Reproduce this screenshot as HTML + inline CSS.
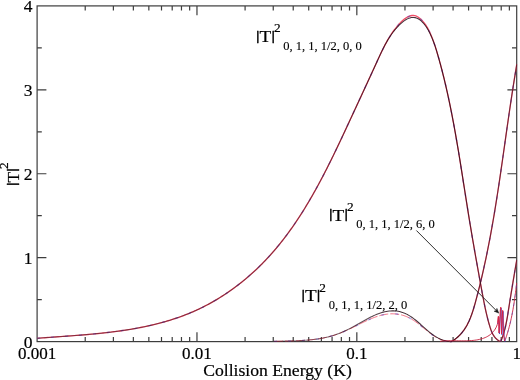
<!DOCTYPE html>
<html><head><meta charset="utf-8"><title>Collision Energy plot</title>
<style>html,body{margin:0;padding:0;background:#fff;overflow:hidden}svg{display:block}</style></head>
<body>
<svg width="520" height="380" viewBox="0 0 520 380">
<rect width="520" height="380" fill="#fff"/>
<g stroke="#3d3d3d" stroke-width="1.2" fill="none" stroke-linecap="butt">
<rect x="37.1" y="5.9" width="479.6" height="335.7"/>
<path d="M85.22 341.6 v-4.7 M85.22 5.9 v4.7 M113.38 341.6 v-4.7 M113.38 5.9 v4.7 M133.35 341.6 v-4.7 M133.35 5.9 v4.7 M148.84 341.6 v-4.7 M148.84 5.9 v4.7 M161.5 341.6 v-4.7 M161.5 5.9 v4.7 M172.2 341.6 v-4.7 M172.2 5.9 v4.7 M181.47 341.6 v-4.7 M181.47 5.9 v4.7 M189.65 341.6 v-4.7 M189.65 5.9 v4.7 M196.97 341.6 v-9.3 M196.97 5.9 v9.3 M245.09 341.6 v-4.7 M245.09 5.9 v4.7 M273.24 341.6 v-4.7 M273.24 5.9 v4.7 M293.22 341.6 v-4.7 M293.22 5.9 v4.7 M308.71 341.6 v-4.7 M308.71 5.9 v4.7 M321.37 341.6 v-4.7 M321.37 5.9 v4.7 M332.07 341.6 v-4.7 M332.07 5.9 v4.7 M341.34 341.6 v-4.7 M341.34 5.9 v4.7 M349.52 341.6 v-4.7 M349.52 5.9 v4.7 M356.83 341.6 v-9.3 M356.83 5.9 v9.3 M404.96 341.6 v-4.7 M404.96 5.9 v4.7 M433.11 341.6 v-4.7 M433.11 5.9 v4.7 M453.08 341.6 v-4.7 M453.08 5.9 v4.7 M468.58 341.6 v-4.7 M468.58 5.9 v4.7 M481.23 341.6 v-4.7 M481.23 5.9 v4.7 M491.94 341.6 v-4.7 M491.94 5.9 v4.7 M501.21 341.6 v-4.7 M501.21 5.9 v4.7 M509.38 341.6 v-4.7 M509.38 5.9 v4.7 M37.1 299.64 h4.7 M516.7 299.64 h-4.7 M37.1 257.68 h9.3 M516.7 257.68 h-9.3 M37.1 215.71 h4.7 M516.7 215.71 h-4.7 M37.1 173.75 h9.3 M516.7 173.75 h-9.3 M37.1 131.79 h4.7 M516.7 131.79 h-4.7 M37.1 89.82 h9.3 M516.7 89.82 h-9.3 M37.1 47.86 h4.7 M516.7 47.86 h-4.7"/>
</g>
<clipPath id="c"><rect x="37.1" y="5.9" width="480.2" height="336.6"/></clipPath>
<linearGradient id="kg" gradientUnits="userSpaceOnUse" x1="37" y1="0" x2="517" y2="0"><stop offset="0" stop-color="#240a14" stop-opacity="0.5"/><stop offset="0.58" stop-color="#240a14" stop-opacity="0.5"/><stop offset="0.74" stop-color="#240a14" stop-opacity="0.84"/><stop offset="0.88" stop-color="#240a14" stop-opacity="0.84"/><stop offset="0.93" stop-color="#240a14" stop-opacity="0.62"/><stop offset="1" stop-color="#240a14" stop-opacity="0.62"/></linearGradient>
<g clip-path="url(#c)">
<path d="M37.16 338.29 L38.63 338.18 L40.11 338.07 L41.59 337.95 L43.08 337.84 L44.56 337.73 L46.05 337.63 L47.53 337.52 L49.02 337.41 L50.51 337.31 L52 337.2 L53.5 337.09 L54.99 336.99 L56.48 336.88 L57.98 336.77 L59.48 336.67 L60.98 336.56 L62.47 336.45 L63.97 336.35 L65.48 336.24 L66.98 336.13 L68.48 336.02 L69.98 335.91 L71.49 335.8 L72.99 335.68 L74.5 335.57 L76 335.45 L77.51 335.34 L79.01 335.22 L80.52 335.1 L82.03 334.97 L83.53 334.85 L85.04 334.72 L86.55 334.59 L88.05 334.46 L89.56 334.33 L91.07 334.19 L92.58 334.05 L94.08 333.91 L95.59 333.76 L97.1 333.62 L98.6 333.46 L100.11 333.31 L101.62 333.15 L103.12 332.99 L104.63 332.83 L106.13 332.66 L107.63 332.49 L109.14 332.31 L110.64 332.13 L112.14 331.95 L113.64 331.76 L115.14 331.56 L116.64 331.37 L118.14 331.16 L119.63 330.96 L121.13 330.75 L122.62 330.53 L124.12 330.31 L125.61 330.08 L127.1 329.85 L128.59 329.61 L130.08 329.37 L131.57 329.12 L133.05 328.87 L134.54 328.61 L136.02 328.34 L137.5 328.07 L138.98 327.79 L140.45 327.51 L141.93 327.22 L143.4 326.92 L144.87 326.62 L146.34 326.31 L147.81 325.99 L149.28 325.66 L150.74 325.33 L152.2 324.99 L153.66 324.65 L155.12 324.3 L156.57 323.93 L158.02 323.57 L159.47 323.19 L160.92 322.81 L162.37 322.41 L163.81 322.01 L165.25 321.61 L166.68 321.19 L168.12 320.77 L169.55 320.33 L170.98 319.89 L172.4 319.44 L173.82 318.98 L175.24 318.51 L176.66 318.03 L178.07 317.55 L179.48 317.05 L180.89 316.55 L182.3 316.03 L183.7 315.51 L185.09 314.97 L186.49 314.43 L187.88 313.87 L189.26 313.31 L190.65 312.73 L192.03 312.15 L193.4 311.55 L194.77 310.95 L196.14 310.33 L197.51 309.7 L198.87 309.07 L200.22 308.42 L201.58 307.76 L202.92 307.09 L204.27 306.41 L205.61 305.72 L206.94 305.02 L208.28 304.31 L209.6 303.59 L210.92 302.86 L212.24 302.12 L213.55 301.37 L214.86 300.61 L216.17 299.84 L217.46 299.06 L218.76 298.27 L220.04 297.48 L221.33 296.67 L222.61 295.86 L223.88 295.03 L225.14 294.2 L226.41 293.36 L227.66 292.51 L228.91 291.65 L230.16 290.78 L231.39 289.91 L232.63 289.02 L233.85 288.13 L235.08 287.23 L236.29 286.33 L237.5 285.41 L238.7 284.49 L239.9 283.56 L241.09 282.62 L242.27 281.67 L243.45 280.72 L244.62 279.76 L245.78 278.79 L246.94 277.81 L248.09 276.83 L249.23 275.84 L250.37 274.84 L251.5 273.84 L252.62 272.83 L253.73 271.82 L254.84 270.79 L255.94 269.77 L257.04 268.73 L258.12 267.69 L259.2 266.64 L260.27 265.59 L261.33 264.53 L262.39 263.46 L263.44 262.39 L264.48 261.31 L265.52 260.23 L266.55 259.14 L267.57 258.05 L268.58 256.95 L269.59 255.84 L270.59 254.73 L271.59 253.61 L272.58 252.49 L273.56 251.36 L274.54 250.23 L275.51 249.09 L276.47 247.95 L277.43 246.8 L278.38 245.65 L279.32 244.49 L280.26 243.33 L281.19 242.16 L282.12 240.99 L283.04 239.81 L283.96 238.63 L284.87 237.44 L285.77 236.25 L286.67 235.05 L287.56 233.85 L288.45 232.65 L289.33 231.44 L290.2 230.23 L291.08 229.01 L291.94 227.79 L292.8 226.56 L293.66 225.33 L294.51 224.1 L295.35 222.86 L296.19 221.62 L297.02 220.37 L297.85 219.13 L298.68 217.87 L299.5 216.62 L300.32 215.36 L301.13 214.09 L301.93 212.83 L302.73 211.56 L303.53 210.28 L304.33 209.01 L305.11 207.73 L305.9 206.44 L306.68 205.16 L307.45 203.87 L308.23 202.57 L308.99 201.28 L309.76 199.98 L310.52 198.68 L311.27 197.38 L312.03 196.07 L312.77 194.76 L313.52 193.45 L314.26 192.13 L315 190.82 L315.73 189.5 L316.46 188.18 L317.19 186.85 L317.91 185.53 L318.63 184.2 L319.35 182.87 L320.06 181.54 L320.77 180.2 L321.48 178.87 L322.19 177.53 L322.89 176.19 L323.59 174.85 L324.28 173.51 L324.98 172.16 L325.67 170.81 L326.36 169.47 L327.04 168.12 L327.72 166.77 L328.41 165.41 L329.08 164.06 L329.76 162.71 L330.43 161.35 L331.1 159.99 L331.77 158.64 L332.44 157.28 L333.1 155.92 L333.77 154.56 L334.43 153.2 L335.09 151.83 L335.74 150.47 L336.4 149.11 L337.05 147.74 L337.7 146.38 L338.36 145.01 L339 143.65 L339.65 142.28 L340.3 140.92 L340.94 139.55 L341.59 138.18 L342.23 136.82 L342.87 135.45 L343.51 134.08 L344.15 132.72 L344.78 131.35 L345.42 129.98 L346.06 128.62 L346.69 127.25 L347.33 125.89 L347.96 124.52 L348.59 123.16 L349.23 121.79 L349.86 120.43 L350.49 119.07 L351.12 117.71 L351.75 116.35 L352.38 114.99 L353.01 113.63 L353.64 112.27 L354.27 110.91 L354.9 109.55 L355.53 108.19 L356.16 106.84 L356.79 105.48 L357.41 104.13 L358.04 102.77 L358.67 101.42 L359.3 100.06 L359.93 98.71 L360.55 97.35 L361.18 96 L361.81 94.64 L362.44 93.29 L363.06 91.93 L363.69 90.58 L364.32 89.22 L364.94 87.87 L365.57 86.51 L366.2 85.15 L366.83 83.79 L367.45 82.44 L368.08 81.08 L368.71 79.72 L369.33 78.36 L369.96 77 L370.59 75.64 L371.22 74.27 L371.84 72.91 L372.47 71.54 L373.1 70.18 L373.73 68.81 L374.35 67.44 L374.98 66.07 L375.61 64.7 L376.24 63.33 L376.87 61.95 L377.5 60.58 L378.13 59.2 L378.76 57.83 L379.39 56.45 L380.03 55.07 L380.68 53.7 L381.33 52.33 L381.98 50.96 L382.65 49.59 L383.32 48.23 L384.01 46.88 L384.7 45.53 L385.41 44.18 L386.13 42.85 L386.86 41.52 L387.61 40.19 L388.38 38.88 L389.16 37.58 L389.96 36.29 L390.77 35.01 L391.61 33.74 L392.47 32.48 L393.35 31.23 L394.25 30 L395.18 28.79 L396.13 27.58 L397.11 26.4 L398.12 25.23 L399.15 24.07 L400.21 22.94 L401.3 21.83 L402.41 20.77 L403.55 19.77 L404.71 18.84 L405.88 17.99 L407.08 17.25 L408.29 16.61 L409.52 16.11 L410.76 15.74 L412.02 15.53 L413.28 15.48 L414.55 15.62 L415.82 15.95 L417.1 16.5 L418.38 17.25 L419.63 18.18 L420.86 19.24 L422.02 20.39 L423.12 21.6 L424.15 22.85 L425.11 24.13 L426.01 25.45 L426.86 26.79 L427.65 28.16 L428.4 29.54 L429.11 30.95 L429.78 32.36 L430.42 33.78 L431.04 35.2 L431.63 36.62 L432.2 38.04 L432.75 39.46 L433.28 40.88 L433.8 42.31 L434.3 43.73 L434.78 45.15 L435.25 46.57 L435.71 48 L436.15 49.43 L436.59 50.85 L437.02 52.28 L437.44 53.71 L437.85 55.14 L438.26 56.57 L438.67 58 L439.07 59.44 L439.47 60.87 L439.87 62.31 L440.26 63.75 L440.65 65.19 L441.03 66.63 L441.41 68.08 L441.79 69.52 L442.17 70.97 L442.54 72.41 L442.9 73.86 L443.27 75.31 L443.63 76.76 L443.98 78.21 L444.34 79.67 L444.69 81.12 L445.03 82.58 L445.38 84.03 L445.72 85.49 L446.06 86.95 L446.39 88.41 L446.72 89.87 L447.05 91.33 L447.38 92.79 L447.7 94.26 L448.02 95.72 L448.34 97.19 L448.66 98.66 L448.97 100.12 L449.28 101.59 L449.59 103.06 L449.89 104.53 L450.19 106 L450.49 107.48 L450.79 108.95 L451.08 110.42 L451.38 111.9 L451.67 113.37 L451.96 114.85 L452.24 116.33 L452.53 117.81 L452.81 119.28 L453.09 120.76 L453.37 122.24 L453.64 123.72 L453.92 125.2 L454.19 126.69 L454.46 128.17 L454.73 129.65 L454.99 131.14 L455.26 132.62 L455.52 134.1 L455.78 135.59 L456.05 137.08 L456.3 138.56 L456.56 140.05 L456.82 141.54 L457.07 143.02 L457.32 144.51 L457.58 146 L457.83 147.49 L458.08 148.98 L458.33 150.47 L458.57 151.96 L458.82 153.45 L459.06 154.94 L459.31 156.43 L459.55 157.92 L459.79 159.41 L460.03 160.9 L460.28 162.39 L460.52 163.89 L460.75 165.38 L460.99 166.87 L461.23 168.36 L461.47 169.85 L461.7 171.35 L461.94 172.84 L462.18 174.33 L462.41 175.82 L462.65 177.32 L462.88 178.81 L463.11 180.3 L463.35 181.8 L463.58 183.29 L463.82 184.78 L464.05 186.27 L464.28 187.77 L464.52 189.26 L464.75 190.75 L464.98 192.24 L465.22 193.73 L465.45 195.22 L465.69 196.72 L465.92 198.21 L466.15 199.7 L466.39 201.19 L466.62 202.68 L466.86 204.17 L467.1 205.66 L467.33 207.15 L467.57 208.64 L467.81 210.13 L468.05 211.62 L468.29 213.1 L468.52 214.59 L468.77 216.08 L469.01 217.56 L469.25 219.05 L469.49 220.54 L469.74 222.02 L469.98 223.51 L470.23 224.99 L470.47 226.48 L470.72 227.96 L470.97 229.44 L471.22 230.92 L471.47 232.41 L471.72 233.89 L471.97 235.37 L472.22 236.85 L472.48 238.33 L472.73 239.81 L472.99 241.29 L473.24 242.77 L473.5 244.25 L473.75 245.73 L474.01 247.21 L474.27 248.69 L474.53 250.17 L474.79 251.65 L475.05 253.12 L475.31 254.6 L475.57 256.08 L475.83 257.56 L476.1 259.03 L476.36 260.51 L476.62 261.99 L476.89 263.47 L477.15 264.94 L477.42 266.42 L477.68 267.9 L477.95 269.38 L478.21 270.85 L478.48 272.33 L478.75 273.81 L479.01 275.28 L479.28 276.76 L479.55 278.24 L479.82 279.71 L480.09 281.19 L480.36 282.67 L480.63 284.15 L480.9 285.62 L481.17 287.1 L481.44 288.58 L481.71 290.06 L481.98 291.54 L482.25 293.02 L482.53 294.49 L482.8 295.97 L483.08 297.45 L483.36 298.93 L483.64 300.41 L483.93 301.88 L484.23 303.36 L484.52 304.84 L484.83 306.31 L485.14 307.79 L485.45 309.26 L485.77 310.74 L486.11 312.21 L486.44 313.69 L486.79 315.16 L487.15 316.63 L487.52 318.1 L487.89 319.57 L488.28 321.03 L488.68 322.5 L489.09 323.96 L489.52 325.43 L489.96 326.89 L490.42 328.34 L490.91 329.77 L491.44 331.18 L492.03 332.55 L492.67 333.89 L493.39 335.17 L494.19 336.39 L495.08 337.54 L496.07 338.62 L497.16 339.62 L498.38 340.52 L499.73 341.32" fill="none" stroke="#ee3a55" stroke-width="1.35" stroke-linejoin="round" stroke-opacity="0.9"/>
<path d="M500.55 341.65 L501.16 340.31 L501.73 338.95 L502.27 337.57 L502.77 336.17 L503.25 334.76 L503.71 333.33 L504.13 331.88 L504.54 330.43 L504.92 328.96 L505.28 327.47 L505.62 325.98 L505.95 324.48 L506.26 322.97 L506.55 321.45 L506.83 319.93 L507.11 318.4 L507.37 316.86 L507.62 315.32 L507.87 313.78 L508.12 312.23 L508.36 310.68 L508.61 309.14 L508.85 307.59 L509.09 306.05 L509.34 304.5 L509.58 302.96 L509.83 301.41 L510.08 299.87 L510.32 298.33 L510.57 296.79 L510.82 295.25 L511.07 293.71 L511.32 292.17 L511.58 290.63 L511.83 289.09 L512.08 287.55 L512.34 286.02 L512.59 284.48 L512.85 282.95 L513.1 281.41 L513.36 279.88 L513.61 278.35 L513.87 276.82 L514.13 275.29 L514.39 273.76 L514.65 272.23 L514.91 270.7 L515.17 269.18 L515.43 267.65 L515.69 266.12 L515.95 264.6 L516.22 263.08 L516.48 261.56 L516.7 260.03" fill="none" stroke="#ee3a55" stroke-width="1.35" stroke-linejoin="round" stroke-opacity="0.9"/>
<path d="M449.83 341.75 L451.24 341.69 L452.6 340.88 L453.9 340.03 L455.14 339.14 L456.34 338.21 L457.48 337.25 L458.58 336.25 L459.63 335.22 L460.64 334.16 L461.6 333.06 L462.52 331.94 L463.4 330.78 L464.24 329.6 L465.05 328.39 L465.82 327.16 L466.56 325.91 L467.26 324.63 L467.93 323.33 L468.58 322.01 L469.2 320.67 L469.79 319.31 L470.36 317.94 L470.9 316.55 L471.42 315.15 L471.93 313.73 L472.42 312.31 L472.89 310.87 L473.34 309.43 L473.78 307.97 L474.21 306.51 L474.63 305.05 L475.05 303.58 L475.45 302.11 L475.85 300.63 L476.25 299.16 L476.64 297.69 L477.03 296.21 L477.41 294.74 L477.8 293.26 L478.17 291.79 L478.55 290.31 L478.92 288.84 L479.29 287.36 L479.66 285.88 L480.02 284.41 L480.38 282.93 L480.74 281.45 L481.09 279.98 L481.44 278.5 L481.79 277.02 L482.13 275.55 L482.47 274.07 L482.81 272.59 L483.15 271.11 L483.48 269.63 L483.81 268.15 L484.14 266.68 L484.46 265.2 L484.78 263.72 L485.1 262.24 L485.42 260.76 L485.73 259.28 L486.05 257.8 L486.35 256.32 L486.66 254.84 L486.96 253.36 L487.26 251.88 L487.56 250.39 L487.86 248.91 L488.15 247.43 L488.45 245.95 L488.74 244.47 L489.02 242.99 L489.31 241.5 L489.59 240.02 L489.87 238.54 L490.15 237.06 L490.43 235.57 L490.7 234.09 L490.97 232.61 L491.24 231.12 L491.51 229.64 L491.78 228.16 L492.04 226.67 L492.31 225.19 L492.57 223.7 L492.83 222.22 L493.08 220.74 L493.34 219.25 L493.59 217.77 L493.85 216.28 L494.1 214.8 L494.35 213.31 L494.59 211.82 L494.84 210.34 L495.08 208.85 L495.33 207.37 L495.57 205.88 L495.81 204.39 L496.05 202.91 L496.28 201.42 L496.52 199.93 L496.76 198.45 L496.99 196.96 L497.22 195.47 L497.45 193.99 L497.68 192.5 L497.91 191.01 L498.14 189.52 L498.37 188.04 L498.59 186.55 L498.82 185.06 L499.04 183.57 L499.27 182.08 L499.49 180.59 L499.71 179.11 L499.93 177.62 L500.15 176.13 L500.37 174.64 L500.59 173.15 L500.81 171.66 L501.02 170.17 L501.24 168.68 L501.45 167.19 L501.67 165.7 L501.89 164.21 L502.1 162.72 L502.31 161.23 L502.53 159.74 L502.74 158.25 L502.95 156.76 L503.17 155.27 L503.38 153.78 L503.59 152.29 L503.8 150.8 L504.01 149.31 L504.22 147.82 L504.44 146.33 L504.65 144.84 L504.86 143.34 L505.07 141.85 L505.28 140.36 L505.49 138.87 L505.7 137.38 L505.91 135.89 L506.13 134.4 L506.34 132.9 L506.55 131.41 L506.76 129.92 L506.97 128.43 L507.19 126.94 L507.4 125.44 L507.61 123.95 L507.83 122.46 L508.04 120.97 L508.26 119.47 L508.47 117.98 L508.69 116.49 L508.91 115 L509.12 113.5 L509.34 112.01 L509.56 110.52 L509.78 109.02 L510 107.53 L510.22 106.04 L510.44 104.54 L510.66 103.05 L510.89 101.56 L511.11 100.06 L511.33 98.57 L511.56 97.08 L511.79 95.58 L512.02 94.09 L512.24 92.6 L512.47 91.1 L512.71 89.61 L512.94 88.12 L513.17 86.62 L513.41 85.13 L513.64 83.64 L513.88 82.14 L514.12 80.65 L514.36 79.15 L514.6 77.66 L514.84 76.17 L515.09 74.67 L515.34 73.18 L515.58 71.68 L515.83 70.19 L516.08 68.7 L516.33 67.2 L516.59 65.71 L516.7 64.21" fill="none" stroke="#ee3a55" stroke-width="1.35" stroke-linejoin="round" stroke-opacity="0.9"/>
<path d="M274.01 341.38 L275.49 341.33 L276.98 341.28 L278.47 341.24 L279.97 341.2 L281.47 341.16 L282.98 341.13 L284.49 341.09 L286.01 341.05 L287.53 341.02 L289.05 340.98 L290.57 340.94 L292.1 340.89 L293.63 340.84 L295.16 340.79 L296.69 340.73 L298.22 340.67 L299.75 340.6 L301.28 340.52 L302.81 340.43 L304.34 340.33 L305.87 340.22 L307.4 340.1 L308.92 339.97 L310.44 339.83 L311.96 339.68 L313.48 339.51 L314.99 339.32 L316.49 339.12 L318 338.91 L319.49 338.67 L320.99 338.42 L322.47 338.16 L323.96 337.87 L325.43 337.56 L326.9 337.23 L328.36 336.88 L329.81 336.51 L331.26 336.11 L332.69 335.69 L334.12 335.25 L335.54 334.78 L336.95 334.29 L338.36 333.78 L339.76 333.25 L341.15 332.7 L342.54 332.14 L343.93 331.55 L345.31 330.96 L346.69 330.34 L348.07 329.72 L349.45 329.08 L350.82 328.43 L352.2 327.77 L353.57 327.1 L354.95 326.42 L356.33 325.74 L357.71 325.05 L359.09 324.36 L360.48 323.67 L361.86 322.98 L363.25 322.3 L364.65 321.63 L366.05 320.97 L367.45 320.32 L368.85 319.69 L370.26 319.07 L371.67 318.48 L373.09 317.91 L374.51 317.36 L375.94 316.85 L377.37 316.36 L378.81 315.91 L380.26 315.5 L381.71 315.13 L383.17 314.79 L384.63 314.5 L386.1 314.26 L387.58 314.07 L389.06 313.93 L390.55 313.84 L392.05 313.81 L393.55 313.83 L395.04 313.91 L396.53 314.05 L398.02 314.24 L399.5 314.5 L400.96 314.81 L402.42 315.19 L403.85 315.62 L405.27 316.12 L406.67 316.68 L408.05 317.29 L409.41 317.96 L410.75 318.68 L412.07 319.44 L413.36 320.25 L414.64 321.09 L415.9 321.97 L417.14 322.87 L418.37 323.8 L419.58 324.75 L420.78 325.71 L421.98 326.69 L423.16 327.67 L424.35 328.65 L425.54 329.63 L426.72 330.6 L427.91 331.56 L429.11 332.5 L430.32 333.42 L431.53 334.31 L432.76 335.17 L434.01 336 L435.28 336.79 L436.56 337.53 L437.87 338.22 L439.21 338.86 L440.57 339.45 L441.96 339.96 L443.39 340.41 L444.85 340.79 L446.35 341.1 L447.89 341.32 L449.47 341.45" fill="none" stroke="#ee3a55" stroke-width="1.0" stroke-linejoin="round" stroke-opacity="0.7" stroke-dasharray="9 2"/>
<path d="M37.16 338.29 L38.63 338.18 L40.11 338.07 L41.59 337.95 L43.08 337.84 L44.56 337.73 L46.05 337.63 L47.53 337.52 L49.02 337.41 L50.51 337.31 L52 337.2 L53.5 337.09 L54.99 336.99 L56.48 336.88 L57.98 336.77 L59.48 336.67 L60.98 336.56 L62.47 336.45 L63.97 336.35 L65.48 336.24 L66.98 336.13 L68.48 336.02 L69.98 335.91 L71.49 335.8 L72.99 335.68 L74.5 335.57 L76 335.45 L77.51 335.34 L79.01 335.22 L80.52 335.1 L82.03 334.97 L83.53 334.85 L85.04 334.72 L86.55 334.59 L88.05 334.46 L89.56 334.33 L91.07 334.19 L92.58 334.05 L94.08 333.91 L95.59 333.76 L97.1 333.62 L98.6 333.46 L100.11 333.31 L101.62 333.15 L103.12 332.99 L104.63 332.83 L106.13 332.66 L107.63 332.49 L109.14 332.31 L110.64 332.13 L112.14 331.95 L113.64 331.76 L115.14 331.56 L116.64 331.37 L118.14 331.16 L119.63 330.96 L121.13 330.75 L122.62 330.53 L124.12 330.31 L125.61 330.08 L127.1 329.85 L128.59 329.61 L130.08 329.37 L131.57 329.12 L133.05 328.87 L134.54 328.61 L136.02 328.34 L137.5 328.07 L138.98 327.79 L140.45 327.51 L141.93 327.22 L143.4 326.92 L144.87 326.62 L146.34 326.31 L147.81 325.99 L149.28 325.66 L150.74 325.33 L152.2 324.99 L153.66 324.65 L155.12 324.3 L156.57 323.93 L158.02 323.57 L159.47 323.19 L160.92 322.81 L162.37 322.41 L163.81 322.01 L165.25 321.61 L166.68 321.19 L168.12 320.77 L169.55 320.33 L170.98 319.89 L172.4 319.44 L173.82 318.98 L175.24 318.51 L176.66 318.03 L178.07 317.55 L179.48 317.05 L180.89 316.55 L182.3 316.03 L183.7 315.51 L185.09 314.97 L186.49 314.43 L187.88 313.87 L189.26 313.31 L190.65 312.73 L192.03 312.15 L193.4 311.55 L194.77 310.95 L196.14 310.33 L197.51 309.7 L198.87 309.07 L200.22 308.42 L201.58 307.76 L202.92 307.09 L204.27 306.41 L205.61 305.72 L206.94 305.02 L208.28 304.31 L209.6 303.59 L210.92 302.86 L212.24 302.12 L213.55 301.37 L214.86 300.61 L216.17 299.84 L217.46 299.06 L218.76 298.27 L220.04 297.48 L221.33 296.67 L222.61 295.86 L223.88 295.03 L225.14 294.2 L226.41 293.36 L227.66 292.51 L228.91 291.65 L230.16 290.78 L231.39 289.91 L232.63 289.02 L233.85 288.13 L235.08 287.23 L236.29 286.33 L237.5 285.41 L238.7 284.49 L239.9 283.56 L241.09 282.62 L242.27 281.67 L243.45 280.72 L244.62 279.76 L245.78 278.79 L246.94 277.81 L248.09 276.83 L249.23 275.84 L250.37 274.84 L251.5 273.84 L252.62 272.83 L253.73 271.82 L254.84 270.79 L255.94 269.77 L257.04 268.73 L258.12 267.69 L259.2 266.64 L260.27 265.59 L261.33 264.53 L262.39 263.46 L263.44 262.39 L264.48 261.31 L265.52 260.23 L266.55 259.14 L267.57 258.05 L268.58 256.95 L269.59 255.84 L270.59 254.73 L271.59 253.61 L272.58 252.49 L273.56 251.36 L274.54 250.23 L275.51 249.09 L276.47 247.95 L277.43 246.8 L278.38 245.65 L279.32 244.49 L280.26 243.33 L281.19 242.16 L282.12 240.99 L283.04 239.81 L283.96 238.63 L284.87 237.44 L285.77 236.25 L286.67 235.05 L287.56 233.85 L288.45 232.65 L289.33 231.44 L290.2 230.23 L291.08 229.01 L291.94 227.79 L292.8 226.56 L293.66 225.33 L294.51 224.1 L295.35 222.86 L296.19 221.62 L297.02 220.37 L297.85 219.13 L298.68 217.87 L299.5 216.62 L300.32 215.36 L301.13 214.09 L301.93 212.83 L302.73 211.56 L303.53 210.28 L304.33 209.01 L305.11 207.73 L305.9 206.44 L306.68 205.16 L307.45 203.87 L308.23 202.57 L308.99 201.28 L309.76 199.98 L310.52 198.68 L311.27 197.38 L312.03 196.07 L312.77 194.76 L313.52 193.45 L314.26 192.13 L315 190.82 L315.73 189.5 L316.46 188.18 L317.19 186.85 L317.91 185.53 L318.63 184.2 L319.35 182.87 L320.06 181.54 L320.77 180.2 L321.48 178.87 L322.19 177.53 L322.89 176.19 L323.59 174.85 L324.28 173.51 L324.98 172.16 L325.67 170.81 L326.36 169.47 L327.04 168.12 L327.72 166.77 L328.41 165.41 L329.08 164.06 L329.76 162.71 L330.43 161.35 L331.1 159.99 L331.77 158.64 L332.44 157.28 L333.1 155.92 L333.77 154.56 L334.43 153.2 L335.09 151.83 L335.74 150.47 L336.4 149.11 L337.05 147.74 L337.7 146.38 L338.36 145.01 L339 143.65 L339.65 142.28 L340.3 140.92 L340.94 139.55 L341.59 138.18 L342.23 136.82 L342.87 135.45 L343.51 134.08 L344.15 132.72 L344.78 131.35 L345.42 129.98 L346.06 128.62 L346.69 127.25 L347.33 125.89 L347.96 124.52 L348.59 123.16 L349.23 121.79 L349.86 120.43 L350.49 119.07 L351.12 117.71 L351.75 116.35 L352.38 114.99 L353.01 113.63 L353.64 112.27 L354.27 110.91 L354.9 109.55 L355.53 108.19 L356.16 106.84 L356.79 105.48 L357.41 104.13 L358.04 102.77 L358.67 101.42 L359.3 100.06 L359.93 98.71 L360.55 97.35 L361.18 96 L361.81 94.64 L362.44 93.29 L363.06 91.93 L363.69 90.58 L364.32 89.22 L364.94 87.87 L365.57 86.51 L366.2 85.15 L366.83 83.79 L367.45 82.44 L368.08 81.08 L368.71 79.72 L369.33 78.36 L369.96 77 L370.59 75.64 L371.22 74.27 L371.84 72.91 L372.47 71.54 L373.1 70.18 L373.73 68.81 L374.35 67.44 L374.98 66.07 L375.61 64.7 L376.24 63.33 L376.87 61.95 L377.5 60.58 L378.13 59.2 L378.76 57.83 L379.39 56.45 L380.03 55.07 L380.68 53.7 L381.33 52.33 L381.98 50.96 L382.65 49.59 L383.32 48.23 L384.01 46.88 L384.7 45.53 L385.41 44.18 L386.13 42.85 L386.86 41.52 L387.61 40.19 L388.38 38.88 L389.16 37.58 L389.96 36.29 L390.77 35.01 L391.61 33.74 L392.47 32.48 L393.35 31.23 L394.25 30 L395.18 28.79 L396.13 27.58 L397.11 26.4 L398.12 25.23 L399.15 24.07 L400.21 22.94 L401.3 21.83 L402.41 20.77 L403.55 19.77 L404.71 18.84 L405.88 17.99 L407.08 17.25 L408.29 16.61 L409.52 16.11 L410.76 15.74 L412.02 15.53 L413.28 15.48 L414.55 15.62 L415.82 15.95 L417.1 16.5 L418.38 17.25 L419.63 18.18 L420.86 19.24 L422.02 20.39 L423.12 21.6 L424.15 22.85 L425.11 24.13 L426.01 25.45 L426.86 26.79 L427.65 28.16 L428.4 29.54 L429.11 30.95 L429.78 32.36 L430.42 33.78 L431.04 35.2 L431.63 36.62 L432.2 38.04 L432.75 39.46 L433.28 40.88 L433.8 42.31 L434.3 43.73 L434.78 45.15 L435.25 46.57 L435.71 48 L436.15 49.43 L436.59 50.85 L437.02 52.28 L437.44 53.71 L437.85 55.14 L438.26 56.57 L438.67 58 L439.07 59.44 L439.47 60.87 L439.87 62.31 L440.26 63.75 L440.65 65.19 L441.03 66.63 L441.41 68.08 L441.79 69.52 L442.17 70.97 L442.54 72.41 L442.9 73.86 L443.27 75.31 L443.63 76.76 L443.98 78.21 L444.34 79.67 L444.69 81.12 L445.03 82.58 L445.38 84.03 L445.72 85.49 L446.06 86.95 L446.39 88.41 L446.72 89.87 L447.05 91.33 L447.38 92.79 L447.7 94.26 L448.02 95.72 L448.34 97.19 L448.66 98.66 L448.97 100.12 L449.28 101.59 L449.59 103.06 L449.89 104.53 L450.19 106 L450.49 107.48 L450.79 108.95 L451.08 110.42 L451.38 111.9 L451.67 113.37 L451.96 114.85 L452.24 116.33 L452.53 117.81 L452.81 119.28 L453.09 120.76 L453.37 122.24 L453.64 123.72 L453.92 125.2 L454.19 126.69 L454.46 128.17 L454.73 129.65 L454.99 131.14 L455.26 132.62 L455.52 134.1 L455.78 135.59 L456.05 137.08 L456.3 138.56 L456.56 140.05 L456.82 141.54 L457.07 143.02 L457.32 144.51 L457.58 146 L457.83 147.49 L458.08 148.98 L458.33 150.47 L458.57 151.96 L458.82 153.45 L459.06 154.94 L459.31 156.43 L459.55 157.92 L459.79 159.41 L460.03 160.9 L460.28 162.39 L460.52 163.89 L460.75 165.38 L460.99 166.87 L461.23 168.36 L461.47 169.85 L461.7 171.35 L461.94 172.84 L462.18 174.33 L462.41 175.82 L462.65 177.32 L462.88 178.81 L463.11 180.3 L463.35 181.8 L463.58 183.29 L463.82 184.78 L464.05 186.27 L464.28 187.77 L464.52 189.26 L464.75 190.75 L464.98 192.24 L465.22 193.73 L465.45 195.22 L465.69 196.72 L465.92 198.21 L466.15 199.7 L466.39 201.19 L466.62 202.68 L466.86 204.17 L467.1 205.66 L467.33 207.15 L467.57 208.64 L467.81 210.13 L468.05 211.62 L468.29 213.1 L468.52 214.59 L468.77 216.08 L469.01 217.56 L469.25 219.05 L469.49 220.54 L469.74 222.02 L469.98 223.51 L470.23 224.99 L470.47 226.48 L470.72 227.96 L470.97 229.44 L471.22 230.92 L471.47 232.41 L471.72 233.89 L471.97 235.37 L472.22 236.85 L472.48 238.33 L472.73 239.81 L472.99 241.29 L473.24 242.77 L473.5 244.25 L473.75 245.73 L474.01 247.21 L474.27 248.69 L474.53 250.17 L474.79 251.65 L475.05 253.12 L475.31 254.6 L475.57 256.08 L475.83 257.56 L476.1 259.03 L476.36 260.51 L476.62 261.99 L476.89 263.47 L477.15 264.94 L477.42 266.42 L477.68 267.9 L477.95 269.38 L478.21 270.85 L478.48 272.33 L478.75 273.81 L479.01 275.28 L479.28 276.76 L479.55 278.24 L479.82 279.71 L480.09 281.19 L480.36 282.67 L480.63 284.15 L480.9 285.62 L481.17 287.1 L481.44 288.58 L481.71 290.06 L481.98 291.54 L482.25 293.02 L482.53 294.49 L482.8 295.97 L483.08 297.45 L483.36 298.93 L483.64 300.41 L483.93 301.88 L484.23 303.36 L484.52 304.84 L484.83 306.31 L485.14 307.79 L485.45 309.26 L485.77 310.74 L486.11 312.21 L486.44 313.69 L486.79 315.16 L487.15 316.63 L487.52 318.1 L487.89 319.57 L488.28 321.03 L488.68 322.5 L489.09 323.96 L489.52 325.43 L489.96 326.89 L490.42 328.34 L490.91 329.77 L491.44 331.18 L492.03 332.55 L492.67 333.89 L493.39 335.17 L494.19 336.39 L495.08 337.54 L496.07 338.62 L497.16 339.62 L498.38 340.52 L499.73 341.32" fill="none" stroke="#3a3ac8" stroke-width="1.4" stroke-linejoin="round" stroke-opacity="0.4" stroke-dasharray="3 11"/>
<path d="M500.55 341.65 L501.16 340.31 L501.73 338.95 L502.27 337.57 L502.77 336.17 L503.25 334.76 L503.71 333.33 L504.13 331.88 L504.54 330.43 L504.92 328.96 L505.28 327.47 L505.62 325.98 L505.95 324.48 L506.26 322.97 L506.55 321.45 L506.83 319.93 L507.11 318.4 L507.37 316.86 L507.62 315.32 L507.87 313.78 L508.12 312.23 L508.36 310.68 L508.61 309.14 L508.85 307.59 L509.09 306.05 L509.34 304.5 L509.58 302.96 L509.83 301.41 L510.08 299.87 L510.32 298.33 L510.57 296.79 L510.82 295.25 L511.07 293.71 L511.32 292.17 L511.58 290.63 L511.83 289.09 L512.08 287.55 L512.34 286.02 L512.59 284.48 L512.85 282.95 L513.1 281.41 L513.36 279.88 L513.61 278.35 L513.87 276.82 L514.13 275.29 L514.39 273.76 L514.65 272.23 L514.91 270.7 L515.17 269.18 L515.43 267.65 L515.69 266.12 L515.95 264.6 L516.22 263.08 L516.48 261.56 L516.7 260.03" fill="none" stroke="#3a3ac8" stroke-width="1.4" stroke-linejoin="round" stroke-opacity="0.4" stroke-dasharray="3 11"/>
<path d="M274.01 341.38 L275.49 341.33 L276.98 341.28 L278.47 341.24 L279.97 341.2 L281.47 341.16 L282.98 341.13 L284.49 341.09 L286.01 341.05 L287.53 341.02 L289.05 340.98 L290.57 340.94 L292.1 340.89 L293.63 340.84 L295.16 340.79 L296.69 340.73 L298.22 340.67 L299.75 340.6 L301.28 340.52 L302.81 340.43 L304.34 340.33 L305.87 340.22 L307.4 340.1 L308.92 339.97 L310.44 339.83 L311.96 339.68 L313.48 339.51 L314.99 339.32 L316.49 339.12 L318 338.91 L319.49 338.67 L320.99 338.42 L322.47 338.16 L323.96 337.87 L325.43 337.56 L326.9 337.23 L328.36 336.88 L329.81 336.51 L331.26 336.11 L332.69 335.69 L334.12 335.25 L335.54 334.78 L336.95 334.29 L338.36 333.78 L339.76 333.25 L341.15 332.7 L342.54 332.14 L343.93 331.55 L345.31 330.96 L346.69 330.34 L348.07 329.72 L349.45 329.08 L350.82 328.43 L352.2 327.77 L353.57 327.1 L354.95 326.42 L356.33 325.74 L357.71 325.05 L359.09 324.36 L360.48 323.67 L361.86 322.98 L363.25 322.3 L364.65 321.63 L366.05 320.97 L367.45 320.32 L368.85 319.69 L370.26 319.07 L371.67 318.48 L373.09 317.91 L374.51 317.36 L375.94 316.85 L377.37 316.36 L378.81 315.91 L380.26 315.5 L381.71 315.13 L383.17 314.79 L384.63 314.5 L386.1 314.26 L387.58 314.07 L389.06 313.93 L390.55 313.84 L392.05 313.81 L393.55 313.83 L395.04 313.91 L396.53 314.05 L398.02 314.24 L399.5 314.5 L400.96 314.81 L402.42 315.19 L403.85 315.62 L405.27 316.12 L406.67 316.68 L408.05 317.29 L409.41 317.96 L410.75 318.68 L412.07 319.44 L413.36 320.25 L414.64 321.09 L415.9 321.97 L417.14 322.87 L418.37 323.8 L419.58 324.75 L420.78 325.71 L421.98 326.69 L423.16 327.67 L424.35 328.65 L425.54 329.63 L426.72 330.6 L427.91 331.56 L429.11 332.5 L430.32 333.42 L431.53 334.31 L432.76 335.17 L434.01 336 L435.28 336.79 L436.56 337.53 L437.87 338.22 L439.21 338.86 L440.57 339.45 L441.96 339.96 L443.39 340.41 L444.85 340.79 L446.35 341.1 L447.89 341.32 L449.47 341.45" fill="none" stroke="#3a3ac8" stroke-width="1.4" stroke-linejoin="round" stroke-opacity="0.4" stroke-dasharray="3 11"/>
<path d="M449.83 341.75 L451.24 341.69 L452.6 340.88 L453.9 340.03 L455.14 339.14 L456.34 338.21 L457.48 337.25 L458.58 336.25 L459.63 335.22 L460.64 334.16 L461.6 333.06 L462.52 331.94 L463.4 330.78 L464.24 329.6 L465.05 328.39 L465.82 327.16 L466.56 325.91 L467.26 324.63 L467.93 323.33 L468.58 322.01 L469.2 320.67 L469.79 319.31 L470.36 317.94 L470.9 316.55 L471.42 315.15 L471.93 313.73 L472.42 312.31 L472.89 310.87 L473.34 309.43 L473.78 307.97 L474.21 306.51 L474.63 305.05 L475.05 303.58 L475.45 302.11 L475.85 300.63 L476.25 299.16 L476.64 297.69 L477.03 296.21 L477.41 294.74 L477.8 293.26 L478.17 291.79 L478.55 290.31 L478.92 288.84 L479.29 287.36 L479.66 285.88 L480.02 284.41 L480.38 282.93 L480.74 281.45 L481.09 279.98 L481.44 278.5 L481.79 277.02 L482.13 275.55 L482.47 274.07 L482.81 272.59 L483.15 271.11 L483.48 269.63 L483.81 268.15 L484.14 266.68 L484.46 265.2 L484.78 263.72 L485.1 262.24 L485.42 260.76 L485.73 259.28 L486.05 257.8 L486.35 256.32 L486.66 254.84 L486.96 253.36 L487.26 251.88 L487.56 250.39 L487.86 248.91 L488.15 247.43 L488.45 245.95 L488.74 244.47 L489.02 242.99 L489.31 241.5 L489.59 240.02 L489.87 238.54 L490.15 237.06 L490.43 235.57 L490.7 234.09 L490.97 232.61 L491.24 231.12 L491.51 229.64 L491.78 228.16 L492.04 226.67 L492.31 225.19 L492.57 223.7 L492.83 222.22 L493.08 220.74 L493.34 219.25 L493.59 217.77 L493.85 216.28 L494.1 214.8 L494.35 213.31 L494.59 211.82 L494.84 210.34 L495.08 208.85 L495.33 207.37 L495.57 205.88 L495.81 204.39 L496.05 202.91 L496.28 201.42 L496.52 199.93 L496.76 198.45 L496.99 196.96 L497.22 195.47 L497.45 193.99 L497.68 192.5 L497.91 191.01 L498.14 189.52 L498.37 188.04 L498.59 186.55 L498.82 185.06 L499.04 183.57 L499.27 182.08 L499.49 180.59 L499.71 179.11 L499.93 177.62 L500.15 176.13 L500.37 174.64 L500.59 173.15 L500.81 171.66 L501.02 170.17 L501.24 168.68 L501.45 167.19 L501.67 165.7 L501.89 164.21 L502.1 162.72 L502.31 161.23 L502.53 159.74 L502.74 158.25 L502.95 156.76 L503.17 155.27 L503.38 153.78 L503.59 152.29 L503.8 150.8 L504.01 149.31 L504.22 147.82 L504.44 146.33 L504.65 144.84 L504.86 143.34 L505.07 141.85 L505.28 140.36 L505.49 138.87 L505.7 137.38 L505.91 135.89 L506.13 134.4 L506.34 132.9 L506.55 131.41 L506.76 129.92 L506.97 128.43 L507.19 126.94 L507.4 125.44 L507.61 123.95 L507.83 122.46 L508.04 120.97 L508.26 119.47 L508.47 117.98 L508.69 116.49 L508.91 115 L509.12 113.5 L509.34 112.01 L509.56 110.52 L509.78 109.02 L510 107.53 L510.22 106.04 L510.44 104.54 L510.66 103.05 L510.89 101.56 L511.11 100.06 L511.33 98.57 L511.56 97.08 L511.79 95.58 L512.02 94.09 L512.24 92.6 L512.47 91.1 L512.71 89.61 L512.94 88.12 L513.17 86.62 L513.41 85.13 L513.64 83.64 L513.88 82.14 L514.12 80.65 L514.36 79.15 L514.6 77.66 L514.84 76.17 L515.09 74.67 L515.34 73.18 L515.58 71.68 L515.83 70.19 L516.08 68.7 L516.33 67.2 L516.59 65.71 L516.7 64.21" fill="none" stroke="#3a3ac8" stroke-width="1.4" stroke-linejoin="round" stroke-opacity="0.4" stroke-dasharray="3 11"/>
<path d="M37.16 338.29 L38.63 338.18 L40.11 338.06 L41.59 337.95 L43.07 337.84 L44.55 337.74 L46.03 337.63 L47.52 337.52 L49 337.41 L50.49 337.31 L51.98 337.2 L53.47 337.1 L54.96 336.99 L56.45 336.89 L57.95 336.78 L59.44 336.67 L60.94 336.57 L62.43 336.46 L63.93 336.36 L65.43 336.25 L66.93 336.14 L68.43 336.03 L69.93 335.92 L71.43 335.81 L72.93 335.69 L74.43 335.58 L75.94 335.46 L77.44 335.35 L78.94 335.23 L80.45 335.11 L81.95 334.99 L83.46 334.86 L84.96 334.73 L86.46 334.61 L87.97 334.47 L89.47 334.34 L90.98 334.2 L92.48 334.06 L93.99 333.92 L95.49 333.78 L97 333.63 L98.5 333.48 L100.01 333.33 L101.51 333.17 L103.01 333.01 L104.51 332.84 L106.02 332.68 L107.52 332.5 L109.02 332.33 L110.52 332.15 L112.02 331.96 L113.51 331.78 L115.01 331.58 L116.51 331.39 L118 331.19 L119.5 330.98 L120.99 330.77 L122.48 330.55 L123.97 330.33 L125.46 330.11 L126.95 329.87 L128.44 329.64 L129.93 329.4 L131.41 329.15 L132.89 328.89 L134.38 328.64 L135.86 328.37 L137.33 328.1 L138.81 327.82 L140.29 327.54 L141.76 327.25 L143.23 326.95 L144.7 326.65 L146.17 326.34 L147.63 326.02 L149.09 325.7 L150.56 325.37 L152.02 325.03 L153.47 324.69 L154.93 324.34 L156.38 323.98 L157.83 323.61 L159.28 323.24 L160.72 322.85 L162.16 322.46 L163.6 322.07 L165.04 321.66 L166.48 321.24 L167.91 320.82 L169.34 320.39 L170.76 319.95 L172.19 319.5 L173.61 319.04 L175.03 318.58 L176.44 318.1 L177.85 317.62 L179.26 317.12 L180.67 316.62 L182.07 316.11 L183.47 315.59 L184.86 315.05 L186.25 314.51 L187.64 313.96 L189.03 313.4 L190.41 312.83 L191.79 312.25 L193.16 311.65 L194.53 311.05 L195.9 310.44 L197.26 309.81 L198.62 309.18 L199.97 308.53 L201.33 307.88 L202.67 307.21 L204.02 306.53 L205.35 305.85 L206.69 305.15 L208.02 304.44 L209.34 303.73 L210.66 303 L211.98 302.26 L213.29 301.52 L214.6 300.76 L215.9 300 L217.2 299.22 L218.49 298.44 L219.78 297.64 L221.06 296.84 L222.33 296.03 L223.61 295.21 L224.87 294.38 L226.13 293.54 L227.39 292.7 L228.64 291.84 L229.88 290.98 L231.12 290.11 L232.35 289.23 L233.58 288.34 L234.8 287.44 L236.01 286.54 L237.22 285.63 L238.42 284.71 L239.62 283.78 L240.81 282.85 L241.99 281.9 L243.17 280.95 L244.34 280 L245.5 279.03 L246.66 278.06 L247.81 277.08 L248.95 276.1 L250.08 275.1 L251.21 274.1 L252.34 273.1 L253.45 272.09 L254.56 271.07 L255.66 270.04 L256.75 269.01 L257.84 267.97 L258.92 266.93 L259.99 265.88 L261.05 264.82 L262.11 263.76 L263.16 262.69 L264.2 261.62 L265.24 260.54 L266.26 259.45 L267.29 258.36 L268.3 257.26 L269.31 256.16 L270.31 255.05 L271.31 253.94 L272.3 252.82 L273.28 251.7 L274.26 250.57 L275.23 249.43 L276.19 248.29 L277.15 247.15 L278.1 246 L279.04 244.84 L279.98 243.68 L280.91 242.52 L281.84 241.35 L282.76 240.17 L283.68 238.99 L284.59 237.81 L285.49 236.62 L286.39 235.43 L287.28 234.23 L288.17 233.03 L289.05 231.82 L289.93 230.61 L290.8 229.4 L291.66 228.18 L292.52 226.96 L293.38 225.73 L294.23 224.5 L295.07 223.26 L295.91 222.02 L296.75 220.78 L297.58 219.54 L298.41 218.29 L299.23 217.03 L300.04 215.77 L300.85 214.51 L301.66 213.25 L302.46 211.98 L303.26 210.71 L304.05 209.44 L304.84 208.16 L305.63 206.88 L306.41 205.6 L307.18 204.31 L307.95 203.02 L308.72 201.73 L309.49 200.43 L310.25 199.13 L311 197.83 L311.75 196.53 L312.5 195.22 L313.25 193.91 L313.99 192.6 L314.73 191.29 L315.46 189.97 L316.19 188.65 L316.92 187.33 L317.64 186.01 L318.36 184.69 L319.08 183.36 L319.79 182.03 L320.5 180.7 L321.21 179.36 L321.92 178.03 L322.62 176.69 L323.32 175.35 L324.01 174.01 L324.71 172.67 L325.4 171.33 L326.09 169.98 L326.77 168.64 L327.45 167.29 L328.13 165.94 L328.81 164.59 L329.49 163.24 L330.16 161.89 L330.83 160.53 L331.5 159.18 L332.17 157.82 L332.83 156.46 L333.49 155.11 L334.15 153.75 L334.81 152.39 L335.47 151.03 L336.12 149.67 L336.78 148.31 L337.43 146.95 L338.08 145.59 L338.73 144.22 L339.38 142.86 L340.02 141.5 L340.66 140.13 L341.31 138.77 L341.95 137.41 L342.59 136.05 L343.23 134.68 L343.87 133.32 L344.5 131.96 L345.14 130.59 L345.78 129.23 L346.41 127.87 L347.04 126.51 L347.68 125.14 L348.31 123.78 L348.94 122.42 L349.57 121.06 L350.2 119.71 L350.83 118.35 L351.46 116.99 L352.09 115.63 L352.72 114.28 L353.35 112.92 L353.98 111.57 L354.61 110.21 L355.23 108.86 L355.86 107.51 L356.49 106.16 L357.12 104.8 L357.74 103.45 L358.37 102.1 L359 100.75 L359.62 99.4 L360.25 98.05 L360.88 96.7 L361.5 95.35 L362.13 93.99 L362.76 92.64 L363.38 91.29 L364.01 89.94 L364.63 88.58 L365.26 87.23 L365.89 85.87 L366.51 84.52 L367.14 83.16 L367.76 81.8 L368.39 80.45 L369.02 79.09 L369.64 77.73 L370.27 76.36 L370.9 75 L371.52 73.64 L372.15 72.27 L372.78 70.9 L373.4 69.54 L374.03 68.16 L374.66 66.79 L375.28 65.42 L375.91 64.04 L376.54 62.66 L377.17 61.28 L377.79 59.9 L378.43 58.52 L379.06 57.14 L379.7 55.75 L380.34 54.37 L380.99 53 L381.64 51.62 L382.31 50.25 L382.98 48.89 L383.67 47.53 L384.36 46.18 L385.07 44.84 L385.8 43.51 L386.54 42.18 L387.29 40.87 L388.07 39.57 L388.86 38.28 L389.67 37.01 L390.5 35.75 L391.36 34.5 L392.24 33.27 L393.14 32.06 L394.07 30.86 L395.02 29.69 L396.01 28.53 L397.02 27.4 L398.06 26.28 L399.13 25.19 L400.24 24.13 L401.38 23.1 L402.54 22.11 L403.73 21.19 L404.94 20.33 L406.17 19.56 L407.41 18.89 L408.67 18.33 L409.95 17.9 L411.23 17.59 L412.52 17.44 L413.82 17.44 L415.11 17.62 L416.41 17.98 L417.7 18.54 L418.98 19.29 L420.23 20.18 L421.43 21.2 L422.58 22.3 L423.66 23.47 L424.68 24.7 L425.64 25.98 L426.55 27.3 L427.4 28.65 L428.21 30.04 L428.98 31.45 L429.7 32.87 L430.39 34.3 L431.05 35.73 L431.68 37.16 L432.28 38.59 L432.86 40.01 L433.41 41.44 L433.93 42.86 L434.44 44.28 L434.93 45.7 L435.41 47.12 L435.86 48.54 L436.31 49.96 L436.74 51.39 L437.17 52.81 L437.58 54.23 L437.99 55.65 L438.4 57.08 L438.8 58.51 L439.2 59.94 L439.6 61.37 L439.99 62.8 L440.38 64.23 L440.76 65.67 L441.14 67.1 L441.52 68.54 L441.9 69.98 L442.27 71.42 L442.63 72.86 L443 74.31 L443.36 75.75 L443.71 77.2 L444.07 78.65 L444.42 80.09 L444.77 81.54 L445.11 83 L445.45 84.45 L445.79 85.9 L446.13 87.36 L446.46 88.81 L446.79 90.27 L447.12 91.73 L447.44 93.19 L447.76 94.65 L448.08 96.11 L448.4 97.57 L448.71 99.04 L449.02 100.5 L449.33 101.97 L449.64 103.43 L449.94 104.9 L450.24 106.37 L450.54 107.84 L450.84 109.31 L451.13 110.78 L451.42 112.26 L451.71 113.73 L452 115.2 L452.29 116.68 L452.57 118.15 L452.85 119.63 L453.13 121.11 L453.41 122.58 L453.68 124.06 L453.96 125.54 L454.23 127.02 L454.5 128.5 L454.77 129.98 L455.03 131.47 L455.3 132.95 L455.56 134.43 L455.82 135.91 L456.08 137.4 L456.34 138.88 L456.6 140.37 L456.86 141.85 L457.11 143.34 L457.36 144.83 L457.62 146.31 L457.87 147.8 L458.12 149.29 L458.37 150.78 L458.61 152.26 L458.86 153.75 L459.1 155.24 L459.35 156.73 L459.59 158.22 L459.84 159.71 L460.08 161.2 L460.32 162.69 L460.56 164.18 L460.8 165.67 L461.04 167.16 L461.27 168.65 L461.51 170.14 L461.75 171.63 L461.99 173.13 L462.22 174.62 L462.46 176.11 L462.69 177.6 L462.93 179.09 L463.16 180.58 L463.4 182.07 L463.63 183.56 L463.87 185.05 L464.1 186.55 L464.33 188.04 L464.57 189.53 L464.8 191.02 L465.03 192.51 L465.27 194 L465.5 195.49 L465.74 196.98 L465.97 198.47 L466.21 199.95 L466.44 201.44 L466.68 202.93 L466.91 204.42 L467.15 205.91 L467.38 207.39 L467.62 208.88 L467.86 210.37 L468.1 211.85 L468.34 213.34 L468.58 214.83 L468.82 216.31 L469.06 217.79 L469.3 219.28 L469.54 220.76 L469.79 222.24 L470.03 223.73 L470.28 225.21 L470.52 226.69 L470.77 228.17 L471.02 229.65 L471.27 231.13 L471.51 232.61 L471.77 234.09 L472.02 235.56 L472.27 237.04 L472.52 238.52 L472.77 240 L473.03 241.47 L473.28 242.95 L473.54 244.43 L473.79 245.9 L474.05 247.38 L474.31 248.85 L474.56 250.33 L474.82 251.8 L475.08 253.28 L475.34 254.75 L475.6 256.23 L475.86 257.7 L476.12 259.18 L476.39 260.65 L476.65 262.13 L476.91 263.6 L477.18 265.07 L477.44 266.55 L477.7 268.02 L477.97 269.5 L478.23 270.97 L478.5 272.44 L478.77 273.92 L479.03 275.39 L479.3 276.87 L479.57 278.34 L479.84 279.82 L480.1 281.29 L480.37 282.77 L480.64 284.24 L480.91 285.72 L481.18 287.19 L481.45 288.67 L481.72 290.14 L481.99 291.62 L482.26 293.1 L482.54 294.57 L482.81 296.05 L483.09 297.53 L483.37 299 L483.65 300.48 L483.94 301.96 L484.24 303.43 L484.53 304.91 L484.84 306.38 L485.15 307.86 L485.46 309.33 L485.79 310.8 L486.12 312.27 L486.46 313.74 L486.8 315.21 L487.16 316.68 L487.53 318.15 L487.91 319.61 L488.3 321.08 L488.7 322.54 L489.11 324 L489.53 325.46 L489.97 326.92 L490.43 328.36 L490.92 329.79 L491.46 331.2 L492.04 332.57 L492.69 333.9 L493.4 335.17 L494.2 336.39 L495.09 337.55 L496.07 338.62 L497.17 339.62 L498.38 340.52 L499.73 341.33" fill="none" stroke="url(#kg)" stroke-width="1.05" stroke-linejoin="round" />
<path d="M500.55 341.65 L501.16 340.31 L501.73 338.95 L502.27 337.57 L502.77 336.17 L503.25 334.76 L503.71 333.33 L504.13 331.88 L504.54 330.43 L504.92 328.96 L505.28 327.47 L505.62 325.98 L505.95 324.48 L506.26 322.97 L506.55 321.45 L506.83 319.93 L507.11 318.4 L507.37 316.86 L507.62 315.32 L507.87 313.78 L508.12 312.23 L508.36 310.68 L508.61 309.14 L508.85 307.59 L509.09 306.05 L509.34 304.5 L509.58 302.96 L509.83 301.41 L510.08 299.87 L510.32 298.33 L510.57 296.79 L510.82 295.25 L511.07 293.71 L511.32 292.17 L511.58 290.63 L511.83 289.09 L512.08 287.55 L512.34 286.02 L512.59 284.48 L512.85 282.95 L513.1 281.41 L513.36 279.88 L513.61 278.35 L513.87 276.82 L514.13 275.29 L514.39 273.76 L514.65 272.23 L514.91 270.7 L515.17 269.18 L515.43 267.65 L515.69 266.12 L515.95 264.6 L516.22 263.08 L516.48 261.56 L516.7 260.03" fill="none" stroke="url(#kg)" stroke-width="1.05" stroke-linejoin="round" />
<path d="M274.01 341.38 L275.48 341.33 L276.97 341.28 L278.46 341.24 L279.95 341.19 L281.45 341.16 L282.95 341.12 L284.46 341.08 L285.97 341.05 L287.49 341.01 L289.01 340.97 L290.53 340.93 L292.05 340.89 L293.58 340.84 L295.1 340.79 L296.63 340.73 L298.16 340.67 L299.69 340.6 L301.22 340.52 L302.74 340.43 L304.27 340.33 L305.79 340.23 L307.32 340.11 L308.84 339.98 L310.36 339.84 L311.87 339.68 L313.39 339.52 L314.9 339.33 L316.4 339.13 L317.9 338.92 L319.39 338.68 L320.88 338.43 L322.37 338.16 L323.84 337.87 L325.32 337.56 L326.78 337.23 L328.24 336.88 L329.68 336.5 L331.12 336.1 L332.56 335.68 L333.98 335.23 L335.39 334.75 L336.8 334.26 L338.2 333.74 L339.59 333.2 L340.98 332.64 L342.35 332.06 L343.73 331.46 L345.1 330.84 L346.46 330.2 L347.82 329.54 L349.18 328.87 L350.53 328.19 L351.88 327.48 L353.23 326.77 L354.57 326.04 L355.92 325.3 L357.26 324.55 L358.6 323.79 L359.94 323.02 L361.29 322.25 L362.63 321.49 L363.98 320.73 L365.33 319.97 L366.68 319.23 L368.04 318.5 L369.4 317.78 L370.76 317.08 L372.13 316.41 L373.5 315.76 L374.89 315.13 L376.27 314.54 L377.67 313.98 L379.07 313.46 L380.49 312.97 L381.91 312.53 L383.34 312.13 L384.78 311.78 L386.23 311.49 L387.7 311.24 L389.17 311.06 L390.66 310.93 L392.15 310.87 L393.64 310.87 L395.13 310.94 L396.62 311.07 L398.1 311.29 L399.56 311.57 L401.01 311.94 L402.44 312.38 L403.85 312.89 L405.23 313.47 L406.59 314.12 L407.93 314.83 L409.24 315.59 L410.53 316.4 L411.8 317.26 L413.05 318.15 L414.28 319.07 L415.49 320.02 L416.69 320.99 L417.87 321.98 L419.03 322.99 L420.19 324.01 L421.34 325.03 L422.48 326.05 L423.62 327.08 L424.76 328.1 L425.9 329.11 L427.05 330.11 L428.2 331.09 L429.36 332.05 L430.53 332.99 L431.72 333.9 L432.92 334.78 L434.14 335.62 L435.38 336.42 L436.65 337.18 L437.94 337.89 L439.26 338.55 L440.61 339.15 L441.99 339.69 L443.41 340.17 L444.86 340.59 L446.36 340.93 L447.9 341.2 L449.48 341.39" fill="none" stroke="url(#kg)" stroke-width="1.05" stroke-linejoin="round" />
<path d="M449.83 341.75 L451.24 341.69 L452.6 340.88 L453.9 340.03 L455.14 339.14 L456.34 338.21 L457.48 337.25 L458.58 336.25 L459.63 335.22 L460.64 334.16 L461.6 333.06 L462.52 331.94 L463.4 330.78 L464.24 329.6 L465.05 328.39 L465.82 327.16 L466.56 325.91 L467.26 324.63 L467.93 323.33 L468.58 322.01 L469.2 320.67 L469.79 319.31 L470.36 317.94 L470.9 316.55 L471.42 315.15 L471.93 313.73 L472.42 312.31 L472.89 310.87 L473.34 309.43 L473.78 307.97 L474.21 306.51 L474.63 305.05 L475.05 303.58 L475.45 302.11 L475.85 300.63 L476.25 299.16 L476.64 297.69 L477.03 296.21 L477.41 294.74 L477.8 293.26 L478.17 291.79 L478.55 290.31 L478.92 288.84 L479.29 287.36 L479.66 285.88 L480.02 284.41 L480.38 282.93 L480.74 281.45 L481.09 279.98 L481.44 278.5 L481.79 277.02 L482.13 275.55 L482.47 274.07 L482.81 272.59 L483.15 271.11 L483.48 269.63 L483.81 268.15 L484.14 266.68 L484.46 265.2 L484.78 263.72 L485.1 262.24 L485.42 260.76 L485.73 259.28 L486.05 257.8 L486.35 256.32 L486.66 254.84 L486.96 253.36 L487.26 251.88 L487.56 250.39 L487.86 248.91 L488.15 247.43 L488.45 245.95 L488.74 244.47 L489.02 242.99 L489.31 241.5 L489.59 240.02 L489.87 238.54 L490.15 237.06 L490.43 235.57 L490.7 234.09 L490.97 232.61 L491.24 231.12 L491.51 229.64 L491.78 228.16 L492.04 226.67 L492.31 225.19 L492.57 223.7 L492.83 222.22 L493.08 220.74 L493.34 219.25 L493.59 217.77 L493.85 216.28 L494.1 214.8 L494.35 213.31 L494.59 211.82 L494.84 210.34 L495.08 208.85 L495.33 207.37 L495.57 205.88 L495.81 204.39 L496.05 202.91 L496.28 201.42 L496.52 199.93 L496.76 198.45 L496.99 196.96 L497.22 195.47 L497.45 193.99 L497.68 192.5 L497.91 191.01 L498.14 189.52 L498.37 188.04 L498.59 186.55 L498.82 185.06 L499.04 183.57 L499.27 182.08 L499.49 180.59 L499.71 179.11 L499.93 177.62 L500.15 176.13 L500.37 174.64 L500.59 173.15 L500.81 171.66 L501.02 170.17 L501.24 168.68 L501.45 167.19 L501.67 165.7 L501.89 164.21 L502.1 162.72 L502.31 161.23 L502.53 159.74 L502.74 158.25 L502.95 156.76 L503.17 155.27 L503.38 153.78 L503.59 152.29 L503.8 150.8 L504.01 149.31 L504.22 147.82 L504.44 146.33 L504.65 144.84 L504.86 143.34 L505.07 141.85 L505.28 140.36 L505.49 138.87 L505.7 137.38 L505.91 135.89 L506.13 134.4 L506.34 132.9 L506.55 131.41 L506.76 129.92 L506.97 128.43 L507.19 126.94 L507.4 125.44 L507.61 123.95 L507.83 122.46 L508.04 120.97 L508.26 119.47 L508.47 117.98 L508.69 116.49 L508.91 115 L509.12 113.5 L509.34 112.01 L509.56 110.52 L509.78 109.02 L510 107.53 L510.22 106.04 L510.44 104.54 L510.66 103.05 L510.89 101.56 L511.11 100.06 L511.33 98.57 L511.56 97.08 L511.79 95.58 L512.02 94.09 L512.24 92.6 L512.47 91.1 L512.71 89.61 L512.94 88.12 L513.17 86.62 L513.41 85.13 L513.64 83.64 L513.88 82.14 L514.12 80.65 L514.36 79.15 L514.6 77.66 L514.84 76.17 L515.09 74.67 L515.34 73.18 L515.58 71.68 L515.83 70.19 L516.08 68.7 L516.33 67.2 L516.59 65.71 L516.7 64.21" fill="none" stroke="url(#kg)" stroke-width="1.05" stroke-linejoin="round" />
<path d="M440.09 341.31 L441.4 341.13 L442.76 340.98 L444.16 340.88 L445.61 340.8 L447.09 340.75 L448.6 340.72 L450.15 340.71 L451.72 340.71 L453.32 340.73 L454.93 340.75 L456.57 340.78 L458.22 340.8 L459.88 340.82 L461.54 340.84 L463.21 340.84 L464.88 340.83 L466.55 340.8 L468.21 340.75 L469.87 340.67 L471.51 340.56 L473.13 340.41 L474.74 340.23 L476.32 340.01 L477.88 339.74 L479.41 339.42 L480.91 339.04 L482.37 338.62 L483.8 338.13 L485.18 337.57 L486.52 336.95 L487.8 336.26 L489.04 335.49 L490.22 334.64 L491.34 333.7 L492.41 332.68 L493.4 331.57 L494.33 330.37 L495.19 329.06 L495.97 327.66 L496.67 326.15 L497.29 324.52 L497.83 322.79" fill="none" stroke="#c81e3c" stroke-width="1.0" stroke-linejoin="round" stroke-opacity="0.9"/>
<path d="M504.74 341.1 L505.27 339.64 L505.8 338.17 L506.3 336.7 L506.79 335.22 L507.26 333.74 L507.72 332.25 L508.16 330.75 L508.59 329.25 L509 327.74 L509.4 326.23 L509.79 324.72 L510.16 323.2 L510.52 321.68 L510.87 320.15 L511.21 318.62 L511.53 317.08 L511.85 315.55 L512.15 314.01 L512.44 312.47 L512.73 310.92 L513 309.38 L513.27 307.83 L513.53 306.28 L513.77 304.73 L514.02 303.18 L514.25 301.63 L514.48 300.07 L514.7 298.52 L514.92 296.97 L515.13 295.41 L515.33 293.86 L515.53 292.31 L515.73 290.76 L515.92 289.2 L516.11 287.66 L516.3 286.11 L516.48 284.56 L516.66 283.02" fill="none" stroke="#c81e3c" stroke-width="1.0" stroke-linejoin="round" stroke-opacity="0.9"/>
<path d="M504.74 341.1 L505.27 339.64 L505.8 338.17 L506.3 336.7 L506.79 335.22 L507.26 333.74 L507.72 332.25 L508.16 330.75 L508.59 329.25 L509 327.74 L509.4 326.23 L509.79 324.72 L510.16 323.2 L510.52 321.68 L510.87 320.15 L511.21 318.62 L511.53 317.08 L511.85 315.55 L512.15 314.01 L512.44 312.47 L512.73 310.92 L513 309.38 L513.27 307.83 L513.53 306.28 L513.77 304.73 L514.02 303.18 L514.25 301.63 L514.48 300.07 L514.7 298.52 L514.92 296.97 L515.13 295.41 L515.33 293.86 L515.53 292.31 L515.73 290.76 L515.92 289.2 L516.11 287.66 L516.3 286.11 L516.48 284.56 L516.66 283.02" fill="none" stroke="#3a3ac8" stroke-width="1.0" stroke-linejoin="round" stroke-opacity="0.45" stroke-dasharray="3 6"/>
<path d="M497.95 323.9 L498.45 319 L498.85 317.2 L499.15 325 L499.45 334 L500.05 323 L500.75 311 L501.25 308.1 L501.55 319 L501.95 334.9 L502.55 321 L503.15 311.3 L503.55 323 L504.25 336.5 L504.95 342" fill="none" stroke="#3a3ac8" stroke-width="1.0" stroke-linejoin="round" stroke-opacity="0.7"/>
<path d="M497.5 322.9 L498 318 L498.4 316.2 L498.7 324 L499 333 L499.6 322 L500.3 310 L500.8 307.1 L501.1 318 L501.5 333.9 L502.1 320 L502.7 310.3 L503.1 322 L503.8 335.5 L504.5 341" fill="none" stroke="#dc1e3c" stroke-width="1.0" stroke-linejoin="round" stroke-opacity="0.9"/>
</g>
<path d="M416.4 230.5 L496.6 310.9" stroke="#222" stroke-width="0.95" fill="none"/><path d="M498.9 313.2 L494.0 311.2 L496.3 310.6 L496.9 308.3 Z" fill="#1a1a1a" stroke="#1a1a1a" stroke-width="0.4" stroke-linejoin="miter"/>
<g font-family="'Liberation Serif', 'DejaVu Serif', serif" fill="#000" stroke="#000" stroke-width="0.2">
<text x="32.6" y="347.6" font-size="17.5" text-anchor="end">0</text>
<text x="32.6" y="263.68" font-size="17.5" text-anchor="end">1</text>
<text x="32.6" y="179.75" font-size="17.5" text-anchor="end">2</text>
<text x="32.6" y="95.82" font-size="17.5" text-anchor="end">3</text>
<text x="32.6" y="11.9" font-size="17.5" text-anchor="end">4</text>
<text x="37.1" y="358.7" font-size="17" text-anchor="middle">0.001</text>
<text x="196.97" y="358.7" font-size="17" text-anchor="middle">0.01</text>
<text x="356.83" y="358.7" font-size="17" text-anchor="middle">0.1</text>
<text x="516.7" y="358.7" font-size="17" text-anchor="middle">1</text>
<text x="277.5" y="375.9" font-size="17.65" text-anchor="middle">Collision Energy (K)</text>
<g transform="translate(18.6 177.1) rotate(-90)"><text x="-7.15" y="-2.3" font-family="'Liberation Sans', sans-serif" font-size="13.5" text-anchor="middle" stroke="#000" stroke-width="0.4">|</text><text x="0" y="0" font-size="17.4" text-anchor="middle" transform="scale(1 1)">T</text><text x="7.1" y="-2.3" font-family="'Liberation Sans', sans-serif" font-size="13.5" text-anchor="middle" stroke="#000" stroke-width="0.4">|</text><text x="11.4" y="-10.5" font-size="13.3" text-anchor="middle">2</text></g>
<g transform="translate(265.4 42.2)"><text x="-7.6" y="-2.3" font-family="'Liberation Sans', sans-serif" font-size="13.5" text-anchor="middle" stroke="#000" stroke-width="0.4">|</text><text x="0" y="0" font-size="17.4" text-anchor="middle" transform="scale(1.1 1)">T</text><text x="7.8" y="-2.3" font-family="'Liberation Sans', sans-serif" font-size="13.5" text-anchor="middle" stroke="#000" stroke-width="0.4">|</text><text x="11.9" y="-9.8" font-size="13.3" text-anchor="middle">2</text><text x="17.9" y="7.3" font-size="12.5" stroke-width="0.12">0, 1, 1, 1/2, 0, 0</text></g>
<g transform="translate(338.4 220.6)"><text x="-7.6" y="-2.3" font-family="'Liberation Sans', sans-serif" font-size="13.5" text-anchor="middle" stroke="#000" stroke-width="0.4">|</text><text x="0" y="0" font-size="17.4" text-anchor="middle" transform="scale(1.1 1)">T</text><text x="7.8" y="-2.3" font-family="'Liberation Sans', sans-serif" font-size="13.5" text-anchor="middle" stroke="#000" stroke-width="0.4">|</text><text x="11.9" y="-9.8" font-size="13.3" text-anchor="middle">2</text><text x="17.9" y="7.3" font-size="12.5" stroke-width="0.12">0, 1, 1, 1/2, 6, 0</text></g>
<g transform="translate(310.8 301.4)"><text x="-7.6" y="-2.3" font-family="'Liberation Sans', sans-serif" font-size="13.5" text-anchor="middle" stroke="#000" stroke-width="0.4">|</text><text x="0" y="0" font-size="17.4" text-anchor="middle" transform="scale(1.1 1)">T</text><text x="7.8" y="-2.3" font-family="'Liberation Sans', sans-serif" font-size="13.5" text-anchor="middle" stroke="#000" stroke-width="0.4">|</text><text x="11.9" y="-9.8" font-size="13.3" text-anchor="middle">2</text><text x="17.9" y="7.3" font-size="12.5" stroke-width="0.12">0, 1, 1, 1/2, 2, 0</text></g>
</g>
</svg>
</body></html>
